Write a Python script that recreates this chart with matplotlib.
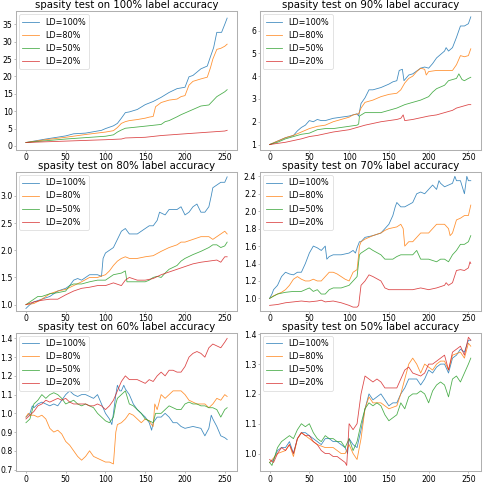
import matplotlib
matplotlib.use("Agg")
import matplotlib.pyplot as plt

labels = ["LD=100%", "LD=80%", "LD=50%", "LD=20%"]
colors = ["#1f77b4", "#ff7f0e", "#2ca02c", "#d62728"]
titles = ["spasity test on 100% label accuracy", "spasity test on 90% label accuracy",
          "spasity test on 80% label accuracy", "spasity test on 70% label accuracy",
          "spasity test on 60% label accuracy", "spasity test on 50% label accuracy"]
x_ticks = [0, 50, 100, 150, 200, 250]
y_ticks = [
    [0, 5, 10, 15, 20, 25, 30, 35],
    [1, 2, 3, 4, 5, 6],
    [1.0, 1.5, 2.0, 2.5, 3.0],
    [1.0, 1.2, 1.4, 1.6, 1.8, 2.0, 2.2, 2.4],
    [0.7, 0.8, 0.9, 1.0, 1.1, 1.2, 1.3, 1.4],
    [1.0, 1.1, 1.2, 1.3, 1.4],
]
y_limits = [(-1.1, 38.8), (0.77, 6.85), (0.89, 3.44), (0.86, 2.45), (0.69, 1.43), (0.94, 1.405)]

# ---- 100% label accuracy ----
a100_ld100 = [(0,1.0),(25,2.0),(50,2.9),(60,3.5),(75,3.7),(95,4.5),(100,5.0),(110,5.8),(115,6.5),(120,8.0),
              (125,9.6),(130,9.8),(140,10.5),(150,11.9),(160,12.8),(170,14.0),(180,15.4),(190,16.5),(200,16.9),
              (205,19.9),(210,20.3),(220,22.2),(228,23.0),(232,25.7),(236,28.3),(240,32.7),(246,32.7),(250,35.0),(253,36.8)]
a100_ld80 = [(0,1.0),(25,1.8),(50,2.5),(75,3.3),(100,4.0),(110,4.4),(115,5.3),(120,6.5),(125,7.0),(130,7.3),
             (140,7.6),(150,8.0),(155,8.3),(160,8.5),(163,11.3),(170,12.5),(180,13.2),(190,13.5),(195,14.2),
             (200,14.5),(205,17.5),(210,18.6),(220,19.3),(228,19.8),(232,22.5),(235,25.0),(240,27.8),(245,28.1),
             (250,28.7),(253,29.3)]
a100_ld50 = [(0,1.0),(50,2.0),(100,2.8),(110,3.2),(115,4.0),(120,4.6),(125,5.1),(150,5.7),(170,6.2),(175,7.0),
             (180,7.3),(190,8.4),(195,9.0),(200,9.5),(210,10.5),(220,11.5),(230,11.8),(235,13.0),(240,14.2),
             (250,15.6),(253,16.2)]
a100_ld20 = [(0,1.0),(50,1.4),(100,1.8),(120,2.0),(125,2.3),(150,2.5),(170,3.0),(200,3.5),(225,3.9),(250,4.3),(253,4.5)]

# ---- 90% label accuracy ----
a90_ld100 = [(0,1.0),(10,1.15),(20,1.3),(30,1.4),(35,1.6),(40,1.75),(45,1.85),(50,2.05),(55,2.0),(60,2.1),(65,2.05),
             (70,2.05),(80,2.15),(90,2.2),(100,2.25),(105,2.3),(110,2.35),(112,2.25),(115,2.8),(120,3.05),(125,3.4),
             (130,3.4),(135,3.45),(140,3.5),(150,3.65),(155,3.75),(160,3.8),(163,4.25),(167,4.3),(169,3.8),(175,4.05),
             (180,4.1),(190,4.35),(195,4.4),(200,4.35),(205,4.55),(210,4.8),(215,4.95),(220,5.1),(222,5.25),(225,5.1),
             (230,5.25),(235,5.7),(240,6.2),(245,6.2),(250,6.3),(253,6.6)]
a90_ld80 = [(0,1.0),(10,1.15),(20,1.3),(30,1.4),(40,1.55),(50,1.7),(60,1.8),(70,1.85),(80,2.0),(90,2.1),(100,2.2),
            (105,2.3),(112,2.35),(115,2.6),(120,2.85),(130,2.95),(140,3.1),(150,3.2),(160,3.25),(165,3.4),(170,3.7),
            (175,3.9),(180,4.0),(185,4.2),(190,4.35),(195,4.3),(197,4.05),(200,4.2),(210,4.25),(220,4.25),(230,4.25),
            (235,4.5),(240,4.9),(245,4.85),(250,4.9),(253,5.2)]
a90_ld50 = [(0,1.0),(10,1.1),(20,1.25),(30,1.35),(40,1.45),(50,1.5),(60,1.65),(70,1.7),(80,1.7),(90,1.75),(100,1.8),
            (110,1.85),(112,1.9),(113,2.25),(120,2.4),(130,2.4),(140,2.4),(150,2.5),(160,2.6),(170,2.75),(180,2.85),
            (190,2.95),(200,3.1),(205,3.3),(210,3.45),(220,3.6),(225,3.8),(230,3.85),(235,3.9),(238,4.1),(242,3.85),
            (245,3.8),(250,3.9),(253,3.95)]
a90_ld20 = [(0,1.0),(10,1.05),(20,1.1),(40,1.25),(50,1.35),(60,1.4),(80,1.55),(100,1.65),(110,1.75),(120,1.85),
            (140,2.0),(160,2.1),(165,2.15),(168,2.3),(170,2.05),(180,2.1),(200,2.25),(210,2.3),(220,2.4),(230,2.5),
            (235,2.6),(240,2.65),(250,2.75),(253,2.75)]

# ---- 80% label accuracy ----
a80_ld100 = [(0,0.93),(5,1.0),(10,1.05),(20,1.1),(30,1.15),(40,1.25),(50,1.3),(55,1.35),(60,1.45),(65,1.48),(70,1.45),
             (75,1.5),(80,1.55),(90,1.55),(95,1.52),(97,1.85),(100,1.95),(105,2.0),(110,2.05),(115,2.2),(120,2.35),
             (125,2.4),(130,2.3),(140,2.3),(145,2.35),(150,2.4),(155,2.45),(160,2.45),(165,2.55),(168,2.7),(175,2.65),
             (180,2.75),(190,2.75),(195,2.8),(200,2.65),(205,2.7),(210,2.8),(215,2.85),(220,2.7),(225,2.7),(230,2.8),
             (233,3.0),(235,3.15),(240,3.2),(245,3.25),(250,3.25),(253,3.35)]
a80_ld80 = [(0,1.0),(10,1.02),(20,1.1),(30,1.2),(40,1.25),(50,1.28),(60,1.35),(70,1.42),(80,1.5),(90,1.5),(100,1.55),
            (105,1.62),(110,1.72),(115,1.8),(120,1.85),(125,1.88),(130,1.85),(140,1.85),(150,1.88),(160,1.9),(170,1.98),
            (180,2.05),(190,2.1),(195,2.15),(200,2.15),(210,2.2),(220,2.25),(230,2.25),(235,2.2),(240,2.25),(250,2.35),
            (253,2.3)]
a80_ld50 = [(0,1.0),(5,1.05),(10,1.1),(15,1.15),(20,1.15),(30,1.2),(40,1.22),(50,1.25),(55,1.35),(60,1.38),(70,1.38),
            (80,1.42),(90,1.45),(100,1.45),(105,1.5),(110,1.55),(120,1.58),(125,1.62),(127,1.42),(130,1.42),(140,1.42),
            (150,1.42),(155,1.45),(160,1.5),(165,1.52),(170,1.5),(175,1.58),(180,1.65),(190,1.72),(195,1.8),(200,1.85),
            (210,1.92),(220,1.98),(230,2.05),(235,2.1),(240,2.1),(245,2.05),(250,2.08),(253,2.15)]
a80_ld20 = [(0,1.0),(10,1.05),(20,1.08),(30,1.1),(40,1.1),(50,1.18),(60,1.25),(70,1.3),(80,1.32),(90,1.35),(100,1.35),
            (110,1.4),(120,1.35),(125,1.45),(130,1.5),(140,1.45),(150,1.45),(160,1.48),(170,1.55),(180,1.6),(190,1.65),
            (200,1.7),(210,1.75),(220,1.78),(230,1.8),(240,1.82),(245,1.78),(250,1.88),(253,1.88)]

# ---- 70% label accuracy ----
a70_ld100 = [(0,1.0),(3,1.05),(5,1.1),(10,1.15),(15,1.25),(20,1.3),(25,1.28),(30,1.27),(35,1.3),(40,1.3),(45,1.4),
             (50,1.52),(55,1.6),(60,1.58),(65,1.55),(70,1.6),(72,1.45),(75,1.48),(80,1.5),(90,1.5),(100,1.52),(105,1.55),
             (108,1.52),(110,1.58),(113,1.65),(115,1.65),(120,1.7),(130,1.72),(140,1.75),(145,1.8),(150,1.85),(155,1.95),
             (158,2.05),(160,2.1),(165,2.05),(170,2.05),(180,2.1),(185,2.2),(190,2.22),(195,2.2),(200,2.25),(205,2.3),
             (210,2.25),(213,2.35),(215,2.32),(220,2.28),(225,2.3),(230,2.32),(233,2.4),(235,2.35),(240,2.35),(245,2.2),
             (248,2.4),(250,2.35),(253,2.35)]
a70_ld80 = [(0,1.0),(5,1.03),(10,1.05),(15,1.07),(20,1.1),(25,1.15),(30,1.22),(35,1.25),(40,1.22),(45,1.2),(50,1.2),
            (55,1.22),(60,1.2),(65,1.2),(70,1.25),(75,1.3),(80,1.3),(85,1.28),(90,1.25),(95,1.22),(100,1.2),(105,1.3),
            (110,1.33),(112,1.5),(113,1.6),(115,1.65),(120,1.68),(130,1.72),(140,1.75),(145,1.78),(150,1.8),(160,1.82),
            (165,1.85),(168,1.8),(170,1.6),(175,1.65),(180,1.65),(185,1.7),(190,1.75),(200,1.75),(205,1.8),(210,1.85),
            (220,1.85),(225,1.8),(227,1.72),(230,1.75),(235,1.9),(240,1.92),(245,1.95),(250,1.95),(253,2.07)]
a70_ld50 = [(0,1.0),(10,1.05),(20,1.07),(30,1.08),(40,1.08),(45,1.1),(50,1.12),(55,1.08),(60,1.1),(65,1.05),(70,1.05),
            (75,1.1),(80,1.12),(90,1.12),(100,1.15),(105,1.2),(110,1.25),(113,1.5),(115,1.52),(120,1.55),(125,1.58),
            (130,1.55),(140,1.5),(145,1.45),(150,1.45),(155,1.45),(160,1.48),(165,1.5),(170,1.5),(180,1.5),(185,1.55),
            (190,1.45),(200,1.45),(210,1.42),(215,1.45),(220,1.45),(225,1.42),(230,1.5),(235,1.55),(240,1.62),(245,1.62),
            (250,1.65),(253,1.72)]
a70_ld20 = [(0,0.92),(10,0.93),(20,0.95),(30,0.96),(40,0.97),(50,0.96),(60,0.97),(65,0.98),(70,0.96),(80,0.97),
            (90,0.95),(100,0.92),(105,0.9),(110,0.9),(112,0.92),(115,1.15),(120,1.2),(125,1.27),(130,1.25),(140,1.2),
            (145,1.12),(150,1.1),(160,1.1),(170,1.1),(180,1.1),(190,1.12),(200,1.1),(210,1.12),(220,1.15),(222,1.18),
            (225,1.15),(230,1.18),(235,1.32),(240,1.33),(245,1.32),(250,1.35),(252,1.42),(253,1.4)]

# ---- 60% label accuracy ----
a60_ld100 = [(0,0.98),(5,1.0),(8,1.04),(10,1.03),(15,1.05),(20,1.06),(25,1.05),(30,1.04),(35,1.05),(40,1.04),(45,1.07),
             (50,1.1),(55,1.12),(60,1.1),(65,1.09),(70,1.1),(75,1.1),(80,1.09),(85,1.08),(90,1.1),(95,1.05),(100,1.0),
             (105,0.97),(108,0.94),(110,1.0),(113,1.1),(115,1.15),(118,1.12),(120,1.12),(123,1.15),(125,1.13),(130,1.1),
             (135,1.05),(140,1.02),(145,1.0),(150,0.98),(155,0.95),(158,0.91),(160,0.95),(165,0.98),(170,0.98),(175,1.0),
             (180,0.98),(185,0.95),(190,0.95),(195,0.93),(200,0.92),(210,0.93),(220,0.92),(225,0.88),(230,0.92),
             (233,0.99),(235,0.97),(240,0.93),(245,0.88),(250,0.87),(253,0.86)]
a60_ld80 = [(0,0.98),(3,1.0),(5,0.99),(10,0.99),(15,0.98),(20,0.99),(25,0.97),(30,0.92),(35,0.9),(40,0.91),(45,0.89),
            (50,0.85),(55,0.83),(60,0.8),(65,0.77),(70,0.75),(75,0.77),(80,0.8),(85,0.77),(90,0.76),(95,0.75),(100,0.74),
            (105,0.74),(110,0.73),(113,0.9),(115,0.94),(120,0.95),(125,0.97),(130,1.0),(135,0.99),(140,0.97),(145,0.95),
            (150,0.97),(155,0.96),(158,0.94),(160,0.93),(162,1.05),(165,1.02),(170,1.1),(175,1.08),(180,1.1),(185,1.12),
            (190,1.12),(195,1.12),(200,1.1),(205,1.07),(210,1.06),(215,1.05),(220,1.05),(225,1.05),(230,1.03),(235,1.05),
            (240,1.08),(245,1.07),(250,1.1),(253,1.09)]
a60_ld50 = [(0,0.95),(5,0.97),(10,1.05),(15,1.07),(20,1.1),(25,1.08),(30,1.1),(35,1.11),(40,1.1),(45,1.08),(50,1.05),
            (55,1.06),(60,1.07),(65,1.05),(70,1.04),(75,1.05),(80,1.04),(85,1.03),(90,1.0),(95,0.98),(100,0.96),(105,0.95),
            (110,0.98),(113,1.05),(115,1.08),(120,1.1),(125,1.12),(130,1.05),(135,1.04),(140,1.02),(145,1.0),(150,0.97),
            (155,0.96),(160,0.95),(163,1.0),(165,1.0),(170,1.0),(175,1.02),(180,1.04),(185,1.03),(190,1.02),(195,1.02),
            (200,1.05),(205,1.06),(210,1.05),(215,1.05),(220,1.04),(225,1.04),(230,1.03),(235,1.03),(240,1.02),(245,0.98),
            (250,1.02),(253,1.03)]
a60_ld20 = [(0,0.97),(5,0.99),(10,1.01),(15,1.04),(20,1.05),(25,1.07),(30,1.06),(35,1.07),(40,1.08),(45,1.07),(50,1.08),
            (55,1.06),(60,1.05),(65,1.05),(70,1.05),(75,1.05),(80,1.04),(85,1.04),(90,1.05),(95,1.04),(100,1.02),(105,1.04),
            (110,1.07),(113,1.1),(115,1.12),(120,1.17),(125,1.2),(130,1.18),(135,1.18),(140,1.18),(145,1.17),(150,1.16),
            (155,1.18),(160,1.17),(165,1.2),(170,1.22),(175,1.2),(180,1.23),(185,1.23),(190,1.22),(195,1.22),(200,1.25),
            (205,1.3),(210,1.32),(215,1.33),(220,1.32),(225,1.3),(230,1.35),(235,1.37),(240,1.36),(245,1.35),(250,1.38),
            (253,1.4)]

# ---- 50% label accuracy ----
a50_ld100 = [(0,0.97),(5,0.98),(10,1.01),(15,1.02),(20,1.02),(25,1.04),(30,1.0),(35,1.05),(40,1.07),(45,1.07),(50,1.06),
             (55,1.05),(60,1.04),(65,1.03),(70,1.05),(75,1.05),(80,1.04),(85,1.04),(90,1.03),(95,1.02),(98,1.0),(100,1.05),
             (105,1.03),(110,1.02),(115,1.08),(120,1.15),(125,1.2),(130,1.18),(135,1.19),(140,1.2),(145,1.18),(150,1.16),
             (155,1.17),(160,1.17),(165,1.2),(170,1.22),(175,1.25),(180,1.25),(185,1.25),(190,1.23),(195,1.25),(200,1.28),
             (205,1.27),(210,1.29),(215,1.3),(220,1.3),(225,1.27),(230,1.32),(235,1.33),(240,1.35),(245,1.34),(250,1.38),
             (253,1.38)]
a50_ld80 = [(0,0.97),(10,1.0),(20,1.01),(25,1.03),(30,0.99),(35,1.05),(40,1.07),(50,1.05),(60,1.03),(70,1.02),(80,1.02),
            (90,1.0),(95,1.0),(100,1.03),(105,1.0),(110,0.98),(115,1.05),(120,1.15),(125,1.19),(130,1.17),(140,1.17),
            (145,1.16),(150,1.15),(160,1.16),(165,1.2),(170,1.25),(175,1.3),(180,1.32),(185,1.3),(190,1.27),(195,1.3),
            (200,1.29),(205,1.28),(210,1.3),(215,1.31),(220,1.31),(225,1.28),(230,1.33),(240,1.34),(245,1.32),(250,1.37),
            (253,1.36)]
a50_ld50 = [(0,0.97),(3,0.96),(10,1.02),(15,1.04),(20,1.05),(25,1.06),(30,1.05),(35,1.08),(40,1.1),(45,1.09),(50,1.1),
            (55,1.07),(60,1.05),(65,1.04),(70,1.06),(75,1.05),(80,1.05),(85,1.04),(90,1.04),(95,1.02),(100,1.05),(105,1.01),
            (110,1.04),(115,1.1),(120,1.15),(125,1.17),(130,1.16),(135,1.17),(140,1.16),(145,1.13),(150,1.11),(155,1.12),
            (160,1.13),(165,1.17),(170,1.15),(175,1.19),(180,1.2),(185,1.2),(190,1.21),(195,1.2),(200,1.17),(205,1.21),
            (210,1.23),(215,1.24),(220,1.23),(225,1.19),(230,1.25),(235,1.26),(240,1.24),(245,1.27),(250,1.3),(253,1.32)]
a50_ld20 = [(0,0.98),(5,0.97),(10,1.0),(15,1.02),(20,1.01),(25,1.03),(30,1.0),(35,1.05),(40,1.07),(45,1.06),(50,1.06),
            (55,1.04),(60,1.03),(65,1.01),(70,1.0),(75,1.0),(80,0.99),(85,0.99),(90,0.98),(95,0.97),(97,0.96),(100,1.1),
            (105,1.08),(110,1.1),(115,1.2),(120,1.26),(125,1.25),(130,1.24),(135,1.25),(140,1.24),(145,1.22),(150,1.22),
            (160,1.22),(165,1.25),(170,1.28),(175,1.29),(180,1.27),(190,1.26),(195,1.27),(200,1.3),(205,1.3),(210,1.31),
            (215,1.32),(220,1.33),(225,1.28),(230,1.34),(235,1.35),(240,1.36),(245,1.33),(250,1.39),(253,1.38)]

panels = [
    [a100_ld100, a100_ld80, a100_ld50, a100_ld20],
    [a90_ld100, a90_ld80, a90_ld50, a90_ld20],
    [a80_ld100, a80_ld80, a80_ld50, a80_ld20],
    [a70_ld100, a70_ld80, a70_ld50, a70_ld20],
    [a60_ld100, a60_ld80, a60_ld50, a60_ld20],
    [a50_ld100, a50_ld80, a50_ld50, a50_ld20],
]

fig, axes = plt.subplots(3, 2, figsize=(10, 10), dpi=48.5)
fig.subplots_adjust(left=0.033, right=0.992, top=0.977, bottom=0.028, hspace=0.16, wspace=0.10)

for i, (ax, series, title) in enumerate(zip(axes.flat, panels, titles)):
    for s, lab, col in zip(series, labels, colors):
        xs = [p[0] for p in s]
        ys = [p[1] for p in s]
        ax.plot(xs, ys, color=col, lw=1.2, alpha=0.85, label=lab)
    ax.set_title(title, fontsize=15, pad=4)
    ax.set_xticks(x_ticks)
    ax.set_yticks(y_ticks[i])
    ax.set_ylim(*y_limits[i])
    ax.set_xlim(-12.5, 266)
    ax.tick_params(labelsize=11.5, length=3.5, pad=1.5, color="#888888")
    for sp in ax.spines.values():
        sp.set_color("#b0b0b0")
        sp.set_linewidth(1.5)
    ax.legend(loc="upper left", fontsize=12, handlelength=2.0, borderaxespad=0.4)

fig.savefig("out.png", dpi=48.5)
